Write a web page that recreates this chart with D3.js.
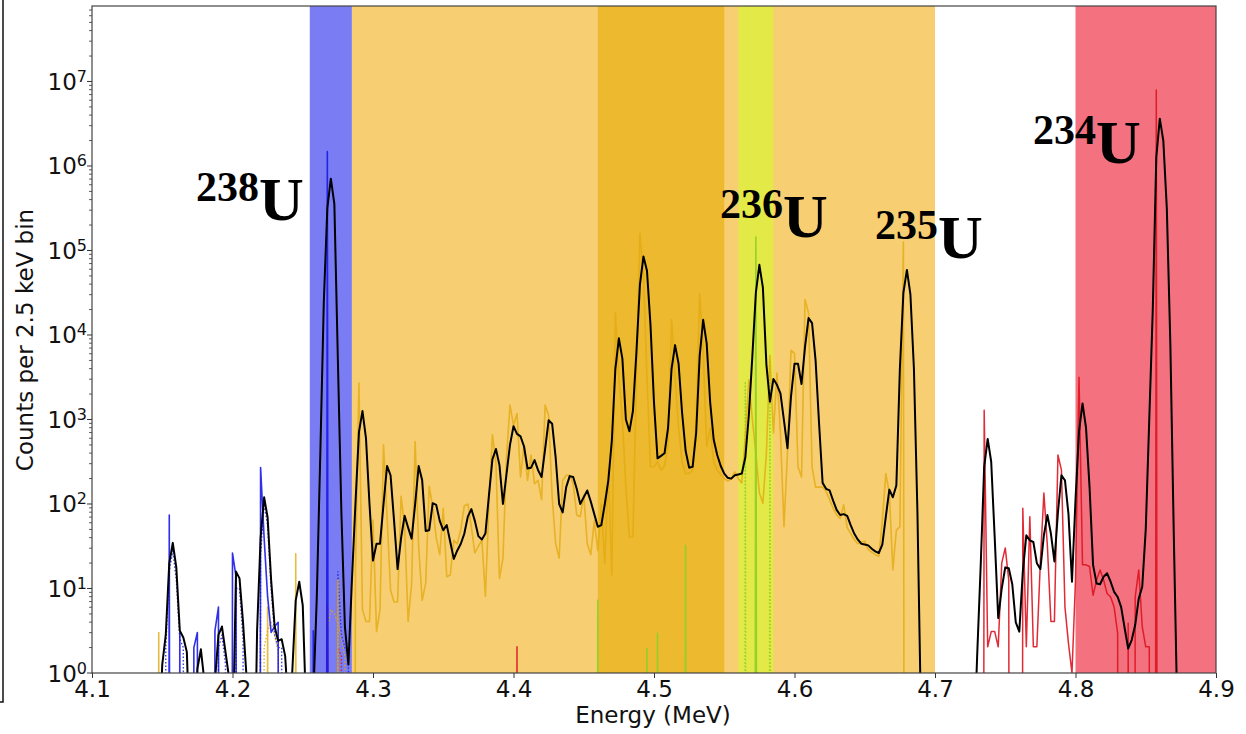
<!DOCTYPE html>
<html>
<head>
<meta charset="utf-8">
<script src="https://cdn.jsdelivr.net/npm/d3@7"></script>
<style>
  html, body { margin: 0; padding: 0; background: #fff; }
  svg { display: block; }
</style>
</head>
<body>
<svg id="chart" width="1246" height="734"></svg>
<script>
// ---------------- DATA ----------------
const _ = null;                 // empty bin (zero counts)
const BIN = 0.0025;             // MeV per bin (2.5 keV)

const energyTicks = [4.1, 4.2, 4.3, 4.4, 4.5, 4.6, 4.7, 4.8, 4.9];
const countDecades = [0, 1, 2, 3, 4, 5, 6, 7];
const xLabel = "Energy (MeV)";
const yLabel = "Counts per 2.5 keV bin";

// shaded regions (MeV)
const regionNames  = ["238U", "235U", "235U-core", "236U", "234U"];
const regionBounds = [[4.255, 4.285], [4.285, 4.70], [4.46, 4.55], [4.56, 4.585], [4.80, 4.90]];

// isotope labels: mass number, symbol, energy of label start, counts at label baseline
const isotopeMass   = ["238", "236", "235", "234"];
const isotopeSymbol = ["U", "U", "U", "U"];

// total spectrum (black), log10(counts), first bin at 4.1475 MeV
const totalStart = 4.1475;
const totalLog10 = [
 -1, 0.1, 0.45, 1.3, 1.54, 1.25, 0.5, 0.42, 0.25, -1,
 -1.5, 0.05, 0.28, -0.1, -2, -2, -0.1, 0.45, 0.55, 0.25,
 -0.05, -1, 1.2, 1.12, 0.6, -0.05, -2, -2, 0.5, 1.6,
 2.08, 1.84, 1.1, 0.55, 0.38, 0.4, 0.2, -0.5, 0.0, 0.86,
 1.08, 0.8, -0.5, -2, -0.3, 0.9, 2.6, 4.4, 5.5, 5.85,
 5.55, 3.7, 1.9, 0.55, 0.1, 1.1, 2.0, 2.85, 3.1, 2.78,
 2.0, 1.33, 1.53, 1.53, 2.0, 2.45, 2.34, 1.8, 1.23, 1.6,
 1.86, 1.72, 1.59, 2.0, 2.45, 2.28, 1.68, 1.69, 2.01, 1.99,
 1.8, 1.69, 1.75, 1.55, 1.35, 1.45, 1.53, 1.65, 1.85, 1.94,
 1.8, 1.62, 1.58, 1.65, 2.1, 2.53, 2.65, 2.46, 2.0, 2.35,
 2.7, 2.92, 2.83, 2.8, 2.68, 2.42, 2.43, 2.52, 2.4, 2.32,
 2.65, 2.99, 2.95, 2.55, 2.0, 1.9, 2.2, 2.33, 2.32, 2.18,
 2.0, 2.08, 2.16, 2.03, 1.88, 1.73, 1.75, 2.0, 2.28, 2.75,
 3.6, 3.96, 3.72, 3.0, 2.86, 3.1, 3.8, 4.6, 4.93, 4.76,
 4.12, 3.2, 2.54, 2.57, 2.6, 2.9, 3.6, 3.88, 3.66, 3.08,
 2.63, 2.43, 2.44, 2.84, 3.75, 4.18, 3.9, 3.2, 2.76, 2.58,
 2.45, 2.36, 2.31, 2.3, 2.34, 2.35, 2.36, 2.55, 3.05, 3.75,
 4.5, 4.83, 4.56, 3.65, 3.21, 3.48, 3.41, 3.31, 2.99, 2.66,
 3.27, 3.66, 3.66, 3.42, 3.86, 4.2, 4.14, 3.7, 2.95, 2.25,
 2.18, 2.16, 2.04, 1.93, 1.87, 1.88, 1.86, 1.75, 1.65, 1.58,
 1.53, 1.52, 1.51, 1.47, 1.44, 1.42, 1.52, 1.85, 2.17, 2.08,
 2.22, 3.6, 4.5, 4.77, 4.48, 3.6, 1.9, -0.5, -3, -3,
 -3, -3, -3, -3, -3, -3, -3, -3, -3, -3, -3, -3, -1,
 0.2, 1.26, 2.44, 2.77, 2.5, 1.6, 0.65, 1.0, 1.25, 1.24,
 1.05, 0.6, 0.49, 1.2, 1.63, 1.57, 1.55, 1.3, 1.23, 1.63,
 1.87, 1.65, 1.32, 1.9, 2.34, 2.28, 1.88, 1.08, 2.05, 2.86,
 3.19, 2.9, 2.2, 1.28, 1.06, 1.05, 1.14, 1.18, 1.08, 0.96,
 0.9, 0.78, 0.53, 0.29, 0.39, 0.57, 0.88, 1.02, 1.7, 3.0,
 4.3, 6.1, 6.56, 6.3, 5.5, 3.9, 1.6, -0.5, -3
];

// 238U component (blue), log10(counts)
const u238Starts = [4.1525, 4.2175, 4.255, 4.265];
const u238Log10 = [
 [_, 1.87, _, _, 0.48, _, _, _, 0.3, 0.48, _, _, _, _, 0.5, 0.78, _, _, _, 1.42, 1.14, _],
 [_, 2.43, 1.6, 0.9, 0.48, 0.55, 0.6, _],
 [_, 0.5, _],
 [_, 6.17, _]
];

// 235U component (gold), log10(counts)
const u235Starts = [4.145, 4.2225, 4.2425, 4.2725, 4.285];
const u235Log10 = [
 [_, 0.48, _],
 [_, 0.78, _],
 [_, 1.41, _],
 [_, 1.1, _],
 [_, 1.2, 3.43, 0.75, 0.61, 0.61, 1.81, 0.49, 0.75, 2.7, 1.85,
  0.98, 0.84, 0.84, 2.09, 1.73, 0.61, 1.06, 2.74, 1.49, 0.86,
  1.06, 2.21, 1.97, 1.6, 1.4, 1.95, 1.14, 1.16, 1.57, 1.53,
  1.7, 1.98, 2.0, 1.73, 1.42, 1.5, 1.57, 0.91, 2.0, 2.82,
  2.48, 1.12, 1.36, 2.54, 3.17, 2.93, 3.07, 2.32, 2.7, 2.28,
  2.58, 2.24, 2.28, 2.05, 3.17, 3.05, 2.09, 1.53, 1.36, 2.28,
  2.34, 2.34, 2.24, 1.87, 1.85, 2.11, 1.53, 1.4, 1.8, 1.45,
  2.0, 1.3, 2.4, 1.16, 4.26, 3.5, 3.0, 2.2, 1.61, 1.61,
  3.5, 5.2, 4.7, 3.5, 2.44, 2.44, 2.5, 2.4, 2.45, 2.7,
  4.18, 3.5, 2.9, 2.5, 2.36, 2.36, 2.4, 3.0, 4.49, 3.8,
  2.68, 2.9, 2.5, 2.4, 2.35, 2.3, 2.27, 2.3, 2.38, 2.3,
  2.25, 2.8, 3.47, 3.0, 2.6, 2.13, 2.01, 2.6, 3.76, 2.84,
  3.55, 2.84, 1.73, 2.6, 3.82, 3.78, 2.44, 2.32, 4.42, 4.26,
  2.44, 2.2, 2.2, 2.2, 2.15, 2.05, 1.95, 1.87, 1.83, 1.99,
  1.72, 1.65, 1.58, 1.53, 1.55, 1.56, 1.46, 1.43, 1.4, 1.38,
  1.8, 2.36, 2.13, 1.22, 1.69, 1.73, 5.1, _]
];

// 236U component (green), log10(counts)
const u236Starts = [4.4575, 4.4925, 4.5, 4.52, 4.57];
const u236Log10 = [[_, 0.86, _], [_, 0.29, _], [_, 0.47, _], [_, 1.51, _], [_, 5.16, _]];

// 234U component (red), log10(counts)
const u234Starts = [4.265, 4.4, 4.7325];
const u234Log10 = [
 [_, 0.8, _],
 [_, 0.31, _],
 [_, 3.11, 0.31, 0.49, 0.49, 0.31, 1.30, 1.48, 1.10, _,
  _, _, 1.95, 0.31, 1.85, 0.31, 0.31, 1.32, 2.13, 1.5,
  0.61, 0.61, 2.58, 2.40, 0.78, 0.35, 0.0, 1.10, 3.5, 1.28,
  1.28, 1.26, 0.92, 1.1, 1.22, 1.1, 0.94, 0.9, 0.78, 0.47,
  _, _, 0.59, _, 0.9, 1.22, 0.55, 0.31, 0.31, _,
  6.9, _]
];

// secondary (dotted) components, log10(counts)
const u238DotStarts = [4.15, 4.1875, 4.2175, 4.2725];
const u238DotLog10 = [
 [_, 0.3, 1.2, 1.45, 1.1, 0.4, 0.3, _],
 [_, 0.3, 0.45, 0.1, _, _, 1.0, 1.0, 0.4, _],
 [_, 1.4, 2.0, 1.75, 1.0, 0.45, 0.3, 0.3, _],
 [_, 1.2, 0.45, 0.3, 0.2, _]
];
const u235DotStarts = [4.22, 4.265];
const u235DotLog10 = [[_, 0.3, 0.5, 0.6, 0.45, 0.25, _], [_, 0.5, 0.75, 0.7, 0.6, 0.4, 0.2, _]];
const u234DotStarts = [4.2725];
const u234DotLog10 = [[_, 0.3, 0.2, _]];
const u236DotStarts = [4.5625, 4.58];
const u236DotLog10 = [[_, 3.45, _], [_, 3.7, _]];

// ---------------- STYLE / LAYOUT ----------------
const W = 1246, H = 734;
const L = 92, T = 6, R = 1216, B = 673;
const regionColors = ["#7a7cf4", "#f7cf72", "#edb92e", "#e3e946", "#f4717f"];
const labelPos = [ // [x px of label start, U baseline px]
  [196, 220], [720, 237], [875, 258], [1033, 163]
];
const FLOOR = 1e-30;

const svg = d3.select("#chart");
const x = d3.scaleLinear().domain([4.1, 4.9]).range([L, R]);
const y = d3.scaleLog().domain([1, 7.82e7]).range([B, T]);

svg.append("defs").append("clipPath").attr("id", "clip")
  .append("rect").attr("x", L).attr("y", T).attr("width", R - L).attr("height", B - T);

// outer crop border line at far left
svg.append("path").attr("d", "M3,0 V702 H0").attr("fill", "none")
  .attr("stroke", "#111").attr("stroke-width", 1.5);

const plotG = svg.append("g").attr("clip-path", "url(#clip)");

// regions
plotG.selectAll("rect.region").data(regionBounds).enter().append("rect")
  .attr("class", "region")
  .attr("x", d => x(d[0])).attr("width", d => x(d[1]) - x(d[0]))
  .attr("y", T).attr("height", B - T)
  .attr("fill", (d, i) => regionColors[i]);

function toPoints(start, logs) {
  return logs.map((v, i) => ({ e: start + i * BIN, c: v === null ? 0 : Math.pow(10, v) }));
}
const line = d3.line().x(d => x(d.e)).y(d => y(Math.max(d.c, FLOOR)));

function drawSegments(starts, logsList, color, width, opacity, dash) {
  logsList.forEach((logs, i) => {
    plotG.append("path")
      .datum(toPoints(starts[i], logs))
      .attr("d", line)
      .attr("fill", "none")
      .attr("stroke", color)
      .attr("stroke-width", width)
      .attr("stroke-opacity", opacity)
      .attr("stroke-linejoin", "round")
      .attr("stroke-dasharray", dash || null);
  });
}

drawSegments(u235DotStarts, u235DotLog10, "#e0a814", 1.4, 0.9, "1.5,2");
drawSegments(u234DotStarts, u234DotLog10, "#e0141e", 1.4, 0.9, "1.5,2");
drawSegments(u236DotStarts, u236DotLog10, "#8fd02a", 1.4, 0.9, "1.5,2");
drawSegments(u238DotStarts, u238DotLog10, "#2a2ae0", 1.4, 0.9, "1.5,2");
drawSegments(u235Starts, u235Log10, "#e2aa12", 1.6, 0.8);
drawSegments(u236Starts, u236Log10, "#8fd02a", 1.6, 0.95);
drawSegments(u234Starts, u234Log10, "#dd1420", 1.5, 0.9);
drawSegments(u238Starts, u238Log10, "#1a1ae6", 1.6, 0.9);

// total spectrum
plotG.append("path")
  .datum(toPoints(totalStart, totalLog10))
  .attr("d", line)
  .attr("fill", "none")
  .attr("stroke", "#000")
  .attr("stroke-width", 2)
  .attr("stroke-linejoin", "round");

// frame
svg.append("rect").attr("x", L).attr("y", T).attr("width", R - L).attr("height", B - T)
  .attr("fill", "none").attr("stroke", "#444").attr("stroke-width", 1.2);

// x axis
const xAxis = d3.axisBottom(x).tickValues(energyTicks).tickFormat(d3.format(".1f"))
  .tickSize(5).tickPadding(3);
const gx = svg.append("g").attr("transform", `translate(0,${B})`).call(xAxis);
gx.select(".domain").remove();
gx.selectAll("line").attr("stroke", "#333");
gx.selectAll("text").attr("font-family", "DejaVu Sans").attr("font-size", 23).attr("fill", "#111");

// y axis: major ticks
const ga = svg.append("g");
countDecades.forEach(d => {
  const yy = y(Math.pow(10, d));
  ga.append("line").attr("x1", L - 5).attr("x2", L).attr("y1", yy).attr("y2", yy)
    .attr("stroke", "#333").attr("stroke-width", 1);
  const t = ga.append("text").attr("x", L - 5).attr("y", yy + 8.5)
    .attr("text-anchor", "end").attr("font-family", "DejaVu Sans").attr("fill", "#111");
  t.append("tspan").attr("font-size", 23).text("10");
  t.append("tspan").attr("font-size", 16).attr("dy", -8).text(String(d));
});
// y axis: minor ticks
countDecades.forEach(d => {
  for (let m = 2; m <= 9; m++) {
    const v = m * Math.pow(10, d);
    if (v > y.domain()[1]) continue;
    const yy = y(v);
    ga.append("line").attr("x1", L - 3).attr("x2", L).attr("y1", yy).attr("y2", yy)
      .attr("stroke", "#333").attr("stroke-width", 0.8);
  }
});

// axis labels
svg.append("text").attr("x", (L + R) / 2 - 1).attr("y", 723)
  .attr("text-anchor", "middle").attr("font-family", "DejaVu Sans").attr("font-size", 23)
  .attr("fill", "#111").text(xLabel);
svg.append("text").attr("transform", "translate(33,340) rotate(-90)")
  .attr("text-anchor", "middle").attr("font-family", "DejaVu Sans").attr("font-size", 23)
  .attr("fill", "#111").text(yLabel);

// isotope labels
isotopeMass.forEach((m, i) => {
  const t = svg.append("text").attr("x", labelPos[i][0]).attr("y", labelPos[i][1])
    .attr("font-family", "Liberation Serif, Times New Roman, serif").attr("font-weight", "bold")
    .attr("fill", "#000");
  t.append("tspan").attr("font-size", 42).attr("dy", -19).text(m);
  t.append("tspan").attr("font-size", 62).attr("dy", 19).text(isotopeSymbol[i]);
});
</script>
</body>
</html>
